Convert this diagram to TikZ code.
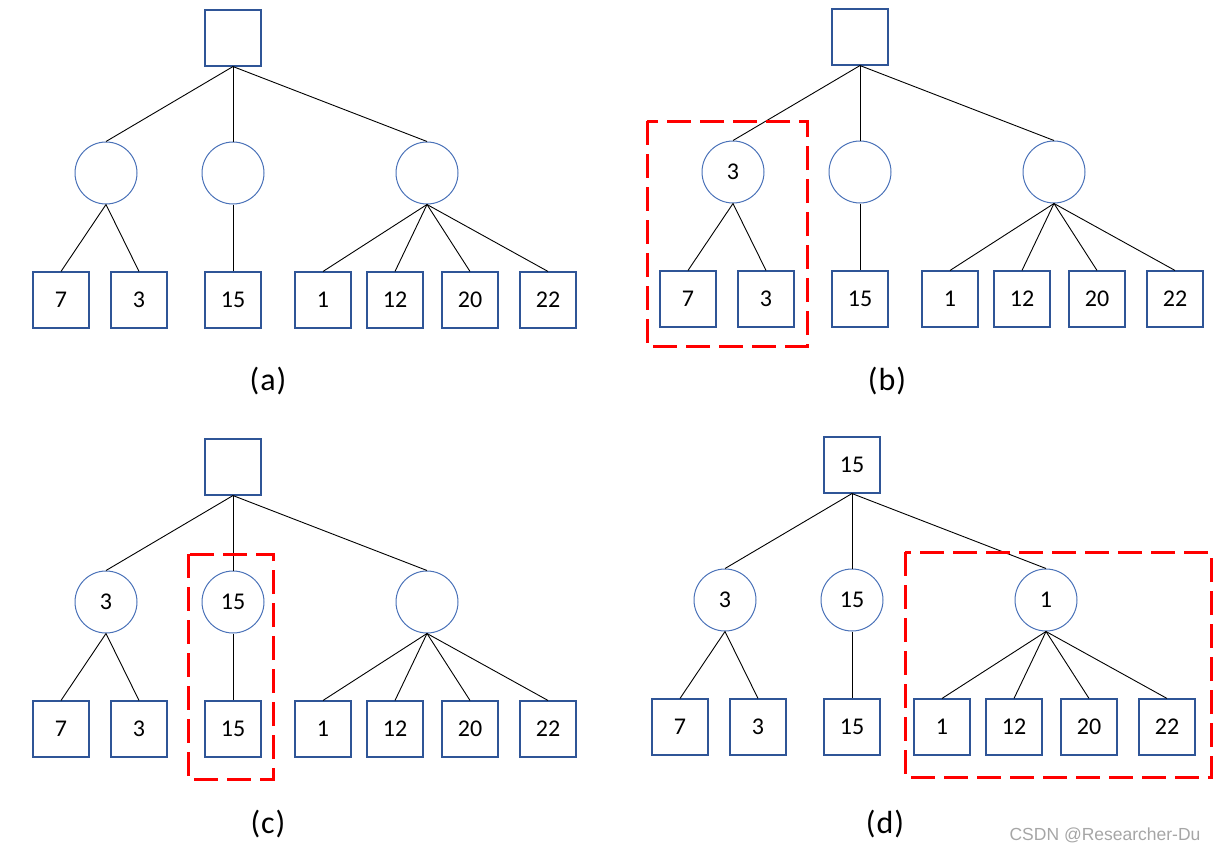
\documentclass[tikz,border=0pt]{standalone}
\usepackage{fontspec}
\setmainfont{Carlito}
\newfontfamily\markfont{Liberation Sans}
\usepackage{xcolor}
\usepackage{tikz}

\definecolor{boxblue}{HTML}{2F5597}
\definecolor{ringblue}{HTML}{4A72B8}
\definecolor{markred}{HTML}{FF0000}
\definecolor{markgray}{HTML}{A6A6A6}

\begin{document}
\begin{tikzpicture}[x=1pt, y=-1pt, every node/.style={font=\fontsize{24}{28}\selectfont},
    leafbox/.style={draw=boxblue, line width=1.1pt, rectangle, minimum size=56pt, inner sep=0pt},
    ringnode/.style={draw=ringblue, line width=1pt, circle, minimum size=62pt, inner sep=0pt},
    link/.style={line width=0.9pt},
    hilite/.style={draw=markred, line width=3pt, dash pattern=on 24pt off 9pt},
    caption/.style={font=\fontsize{32}{36}\selectfont}]
    \useasboundingbox (0,0) rectangle (1216,851);

    % (a) empty tree
    \begin{scope}
        \node[leafbox] (a-root) at (233,38) {};
        \node[ringnode] (a-c1) at (106,173) {};
        \node[ringnode] (a-c2) at (233,173) {};
        \node[ringnode] (a-c3) at (427,173) {};
        \node[leafbox] (a-l1) at (61,300) {7};
        \node[leafbox] (a-l2) at (139,300) {3};
        \node[leafbox] (a-l3) at (233,300) {15};
        \node[leafbox] (a-l4) at (323,300) {1};
        \node[leafbox] (a-l5) at (395,300) {12};
        \node[leafbox] (a-l6) at (470,300) {20};
        \node[leafbox] (a-l7) at (548,300) {22};
        \foreach \c in {a-c1,a-c2,a-c3} \draw[link] (a-root.south) -- (\c.north);
        \foreach \l in {a-l1,a-l2} \draw[link] (a-c1.south) -- (\l.north);
        \draw[link] (a-c2.south) -- (a-l3.north);
        \foreach \l in {a-l4,a-l5,a-l6,a-l7} \draw[link] (a-c3.south) -- (\l.north);
    \end{scope}

    % (b) first group filled
    \begin{scope}[shift={(627,-1)}]
        \node[leafbox] (b-root) at (233,38) {};
        \node[ringnode] (b-c1) at (106,173) {3};
        \node[ringnode] (b-c2) at (233,173) {};
        \node[ringnode] (b-c3) at (427,173) {};
        \node[leafbox] (b-l1) at (61,300) {7};
        \node[leafbox] (b-l2) at (139,300) {3};
        \node[leafbox] (b-l3) at (233,300) {15};
        \node[leafbox] (b-l4) at (323,300) {1};
        \node[leafbox] (b-l5) at (395,300) {12};
        \node[leafbox] (b-l6) at (470,300) {20};
        \node[leafbox] (b-l7) at (548,300) {22};
        \foreach \c in {b-c1,b-c2,b-c3} \draw[link] (b-root.south) -- (\c.north);
        \foreach \l in {b-l1,b-l2} \draw[link] (b-c1.south) -- (\l.north);
        \draw[link] (b-c2.south) -- (b-l3.north);
        \foreach \l in {b-l4,b-l5,b-l6,b-l7} \draw[link] (b-c3.south) -- (\l.north);
    \end{scope}

    % (c) second group filled
    \begin{scope}[shift={(0,429)}]
        \node[leafbox] (c-root) at (233,38) {};
        \node[ringnode] (c-c1) at (106,173) {3};
        \node[ringnode] (c-c2) at (233,173) {15};
        \node[ringnode] (c-c3) at (427,173) {};
        \node[leafbox] (c-l1) at (61,300) {7};
        \node[leafbox] (c-l2) at (139,300) {3};
        \node[leafbox] (c-l3) at (233,300) {15};
        \node[leafbox] (c-l4) at (323,300) {1};
        \node[leafbox] (c-l5) at (395,300) {12};
        \node[leafbox] (c-l6) at (470,300) {20};
        \node[leafbox] (c-l7) at (548,300) {22};
        \foreach \c in {c-c1,c-c2,c-c3} \draw[link] (c-root.south) -- (\c.north);
        \foreach \l in {c-l1,c-l2} \draw[link] (c-c1.south) -- (\l.north);
        \draw[link] (c-c2.south) -- (c-l3.north);
        \foreach \l in {c-l4,c-l5,c-l6,c-l7} \draw[link] (c-c3.south) -- (\l.north);
    \end{scope}

    % (d) third group filled, root set
    \begin{scope}[shift={(619,427)}]
        \node[leafbox] (d-root) at (233,38) {15};
        \node[ringnode] (d-c1) at (106,173) {3};
        \node[ringnode] (d-c2) at (233,173) {15};
        \node[ringnode] (d-c3) at (427,173) {1};
        \node[leafbox] (d-l1) at (61,300) {7};
        \node[leafbox] (d-l2) at (139,300) {3};
        \node[leafbox] (d-l3) at (233,300) {15};
        \node[leafbox] (d-l4) at (323,300) {1};
        \node[leafbox] (d-l5) at (395,300) {12};
        \node[leafbox] (d-l6) at (470,300) {20};
        \node[leafbox] (d-l7) at (548,300) {22};
        \foreach \c in {d-c1,d-c2,d-c3} \draw[link] (d-root.south) -- (\c.north);
        \foreach \l in {d-l1,d-l2} \draw[link] (d-c1.south) -- (\l.north);
        \draw[link] (d-c2.south) -- (d-l3.north);
        \foreach \l in {d-l4,d-l5,d-l6,d-l7} \draw[link] (d-c3.south) -- (\l.north);
    \end{scope}

    % dashed highlights
    \draw[hilite] (647,121) rectangle (807,346);
    \draw[hilite] (188,554) rectangle (273,779);
    \draw[hilite] (905,552) rectangle (1211,777);

    % captions
    \node[caption] (a-cap) at (268,381) {(\kern1pt a\kern1pt)};
    \node[caption] (b-cap) at (887,381) {(\kern1pt b\kern1pt)};
    \node[caption] (c-cap) at (268,824) {(\kern1pt c\kern1pt)};
    \node[caption] (d-cap) at (885,824) {(\kern1pt d\kern1pt)};
    \node[anchor=east, text=markgray, font=\markfont\fontsize{17.5}{20}\selectfont] (mark) at (1204,835) {CSDN @Researcher-Du};
\end{tikzpicture}
\end{document}
